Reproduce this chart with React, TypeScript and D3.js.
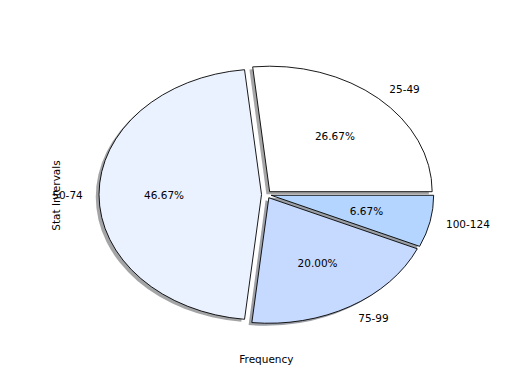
import * as d3 from 'd3'

const labels = ['25-49', '50-74', '75-99', '100-124']
const counts = [4, 7, 3, 1]
const colors = ['#ffffff', '#ebf2ff', '#c6d9ff', '#b3d5ff']
const explode = [0.03, 0.03, 0.03, 0.03]

const width = 520
const height = 390
const cx = 266.4
const cy = 194.5
const rx = 162.5
const ry = 125.5

// matplotlib-style shadow: face colour * 0.3, half transparent
const shadowColor = (c: string) => {
    const rgb = d3.rgb(c)
    return d3.rgb(rgb.r * 0.3, rgb.g * 0.3, rgb.b * 0.3).formatHex()
}

export default function App() {
    const total = d3.sum(counts)
    // counter-clockwise from 3 o'clock
    const pie = d3.pie<number>().sort(null).startAngle(Math.PI / 2).endAngle(Math.PI / 2 - 2 * Math.PI)
    const arcs = pie(counts)
    const arc = d3.arc<d3.PieArcDatum<number>>().innerRadius(0).outerRadius(100)

    const slices = arcs.map((a, i) => {
        const mid = Math.PI / 2 - (a.startAngle + a.endAngle) / 2
        const ox = cx + explode[i] * rx * Math.cos(mid)
        const oy = cy - explode[i] * ry * Math.sin(mid)
        return { a, i, mid, ox, oy }
    })

    const font = "'DejaVu Sans', sans-serif"

    return (
        <svg width={width} height={height} style={{ position: 'absolute', left: 0, top: 0 }}>
            <rect width={width} height={height} fill="white" />
            {slices.map(({ a, i, ox, oy }) => (
                <path key={'s' + i}
                    d={arc(a) ?? ''}
                    transform={`translate(${ox - 0.02 * rx}, ${oy + 0.02 * ry}) scale(${rx / 100}, ${ry / 100})`}
                    fill={shadowColor(colors[i])}
                    fillOpacity={0.5}
                    stroke="none" />
            ))}
            {slices.map(({ a, i, ox, oy }) => (
                <path key={'w' + i}
                    d={arc(a) ?? ''}
                    transform={`translate(${ox}, ${oy}) scale(${rx / 100}, ${ry / 100})`}
                    fill={colors[i]}
                    stroke="black"
                    strokeWidth={0.9}
                    vectorEffect="non-scaling-stroke" />
            ))}
            {slices.map(({ i, mid, ox, oy }) => {
                const x = ox + 1.1 * rx * Math.cos(mid)
                const y = oy - 1.1 * ry * Math.sin(mid)
                return (
                    <text key={'l' + i} x={x} y={y} dy="0.4em"
                        textAnchor={Math.cos(mid) > 0 ? 'start' : 'end'}
                        fontFamily={font} fontSize={10.5}>{labels[i]}</text>
                )
            })}
            {slices.map(({ i, mid, ox, oy }) => {
                const x = ox + 0.6 * rx * Math.cos(mid)
                const y = oy - 0.6 * ry * Math.sin(mid)
                return (
                    <text key={'p' + i} x={x} y={y} dy="0.4em" textAnchor="middle"
                        fontFamily={font} fontSize={10.5}>{(counts[i] / total * 100).toFixed(2) + '%'}</text>
                )
            })}
            <text x={cx} y={363} textAnchor="middle" fontFamily={font} fontSize={10.5}>Frequency</text>
            <text transform={`translate(60, ${cy + 1}) rotate(-90)`} textAnchor="middle"
                fontFamily={font} fontSize={10.5}>Stat Intervals</text>
        </svg>
    )
}
